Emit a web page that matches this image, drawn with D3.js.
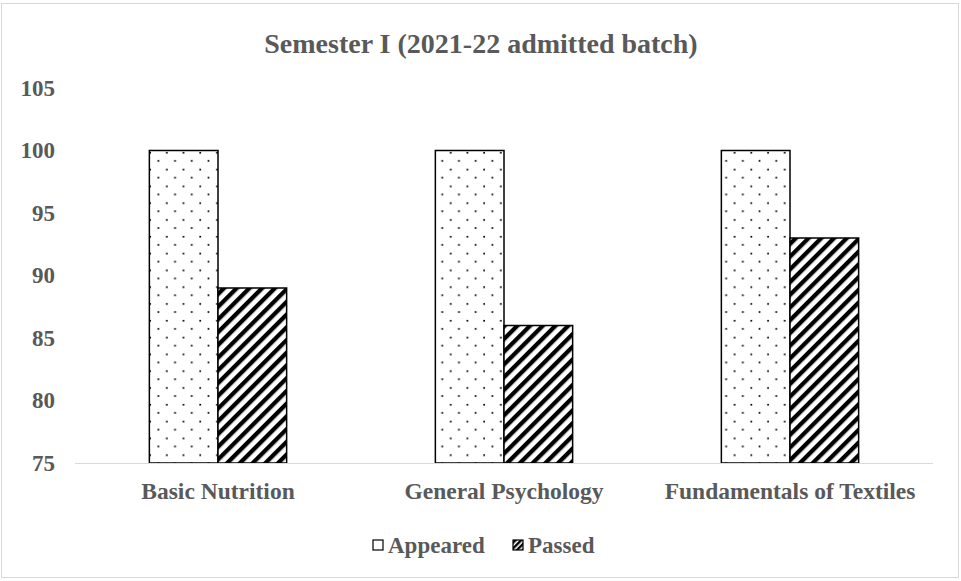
<!DOCTYPE html>
<html><head><meta charset="utf-8">
<script src="https://cdn.jsdelivr.net/npm/d3@7"></script>
<style>body{margin:0;background:#fff}svg{display:block}</style>
</head><body>
<script>
const categories = ["Basic Nutrition", "General Psychology", "Fundamentals of Textiles"];
const seriesNames = ["Appeared", "Passed"];
const appeared = [100, 100, 100];
const passed = [89, 86, 93];
const yTicks = [75, 80, 85, 90, 95, 100, 105];
const title = "Semester I (2021-22 admitted batch)";

const W = 961, H = 581;
const svg = d3.select("body").append("svg").attr("width", W).attr("height", H);
const defs = svg.append("defs");
const dots = defs.append("pattern").attr("id","dots").attr("patternUnits","userSpaceOnUse")
  .attr("width",16.7).attr("height",16.8).attr("x",150).attr("y",150);
dots.append("rect").attr("width",16.7).attr("height",16.8).attr("fill","#fff");
dots.append("rect").attr("x",16).attr("y",1.9).attr("width",1.7).attr("height",1.7).attr("fill","#000");
dots.append("rect").attr("x",-0.7).attr("y",1.9).attr("width",1.7).attr("height",1.7).attr("fill","#000");
dots.append("rect").attr("x",7.5).attr("y",10).attr("width",1.7).attr("height",1.7).attr("fill","#000");
const stripes = defs.append("pattern").attr("id","stripes").attr("patternUnits","userSpaceOnUse")
  .attr("width",9).attr("height",9).attr("patternTransform","rotate(45)");
stripes.append("rect").attr("width",9).attr("height",9).attr("fill","#fff");
stripes.append("rect").attr("width",4.3).attr("height",9).attr("fill","#000");

svg.append("rect").attr("x",1.5).attr("y",3.5).attr("width",957).attr("height",574)
  .attr("fill","#fff").attr("stroke","#d9d9d9").attr("stroke-width",1);

const font = "'Liberation Serif','Times New Roman',serif";
const grey = "#595959";
const x0 = d3.scaleBand().domain(categories).range([75, 933]).paddingInner(0.52).paddingOuter(0.26);
const x1 = d3.scaleBand().domain(seriesNames).range([0, x0.bandwidth()]);
const y = d3.scaleLinear().domain([75, 105]).range([463, 88]);

svg.append("text").attr("x", 481).attr("y", 43).attr("dy","0.35em").attr("text-anchor","middle")
  .attr("font-family",font).attr("font-weight","bold").attr("font-size","28px").attr("fill",grey).text(title);

const yAxis = svg.append("g").attr("transform","translate(75,0)")
  .call(d3.axisLeft(y).tickValues(yTicks).tickSize(0).tickPadding(20));
yAxis.select(".domain").remove();
yAxis.selectAll("text").attr("font-family",font).attr("font-weight","bold").attr("font-size","23px").attr("fill",grey);

const data = categories.map((c,i)=>({c, vals:[{s:"Appeared",v:appeared[i]},{s:"Passed",v:passed[i]}]}));
const g = svg.append("g");
data.forEach(d=>{
  d.vals.forEach(e=>{
    g.append("rect").attr("x", x0(d.c)+x1(e.s)).attr("y", y(e.v))
      .attr("width", x1.bandwidth()).attr("height", y(75)-y(e.v))
      .attr("fill", e.s==="Appeared" ? "url(#dots)" : "url(#stripes)")
      .attr("stroke","#000").attr("stroke-width",1.5);
  });
});

svg.append("line").attr("x1",75).attr("x2",933).attr("y1",463.5).attr("y2",463.5)
  .attr("stroke","#d9d9d9").attr("stroke-width",1);

const xAxis = svg.append("g").attr("transform","translate(0,463)")
  .call(d3.axisBottom(x0).tickSize(0).tickPadding(19));
xAxis.select(".domain").remove();
xAxis.selectAll("text").attr("font-family",font).attr("font-weight","bold").attr("font-size","23.5px").attr("fill",grey);

// legend
const legend = svg.append("g").attr("transform","translate(0,545)");
const items = [{s:"Appeared",x:373},{s:"Passed",x:513}];
const lp = defs.append("pattern").attr("id","legstripes").attr("patternUnits","userSpaceOnUse")
  .attr("width",4).attr("height",4).attr("patternTransform","rotate(45)");
lp.append("rect").attr("width",4).attr("height",4).attr("fill","#fff");
lp.append("rect").attr("width",2.4).attr("height",4).attr("fill","#000");
seriesNames.forEach((s,i)=>{
  const lx = items[i].x;
  legend.append("rect").attr("x",lx).attr("y",-5).attr("width",10).attr("height",10)
    .attr("fill", i===0 ? "#fff" : "url(#legstripes)").attr("stroke","#000").attr("stroke-width",1.2);
  legend.append("text").attr("x",lx+15).attr("y",0).attr("dy","0.35em")
    .attr("font-family",font).attr("font-weight","bold").attr("font-size","23px").attr("fill",grey).text(s);
});
</script>
</body></html>
